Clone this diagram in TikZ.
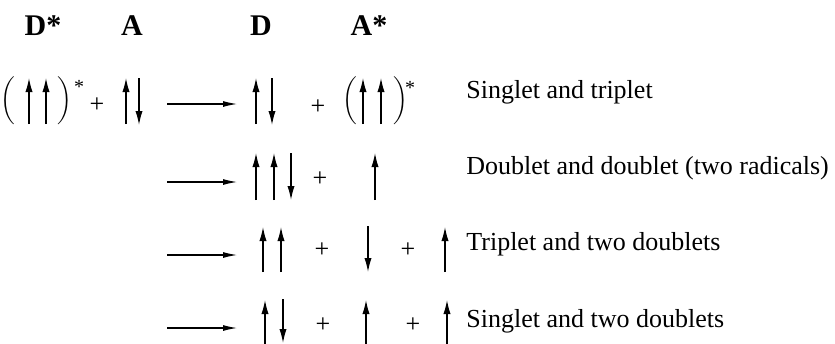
\documentclass[tikz,border=0pt]{standalone}
\usepackage{fontspec}
\setmainfont{Liberation Serif}
\usetikzlibrary{arrows.meta}

\begin{document}
\begin{tikzpicture}[x=0.5pt, y=-0.5pt,
  spinarrow/.style={line width=0.65pt, -{Latex[length=7pt,width=3.6pt]}},
  rxnarrow/.style={line width=0.55pt, -{Latex[length=7pt,width=3pt]}},
  plussign/.style={inner sep=0pt, font=\fontsize{13}{15}\selectfont},
  species/.style={anchor=base, inner sep=0pt, font=\fontsize{15}{18}\selectfont\bfseries},
  statelabel/.style={anchor=base west, inner sep=0pt, font=\fontsize{13}{15}\selectfont},
  paren/.style={inner sep=0pt, font=\fontsize{10}{12}\selectfont},
  star/.style={inner sep=0pt, font=\fontsize{10}{11}\selectfont}]
  \useasboundingbox (0,0) rectangle (835,343);

  % species headers
  \node[species] (Dex) at (43,35)  {D*};
  \node[species] (Ag)  at (132,35) {A};
  \node[species] (Dg)  at (261,35) {D};
  \node[species] (Aex) at (369,35) {A*};

  % reaction arrows
  \coordinate (R1s) at (167,104); \coordinate (R1e) at (237,104);
  \coordinate (R2s) at (167,182); \coordinate (R2e) at (237,182);
  \coordinate (R3s) at (167,255); \coordinate (R3e) at (237,255);
  \coordinate (R4s) at (167,328); \coordinate (R4e) at (237,328);
  \draw[rxnarrow] (R1s) -- (R1e);
  \draw[rxnarrow] (R2s) -- (R2e);
  \draw[rxnarrow] (R3s) -- (R3e);
  \draw[rxnarrow] (R4s) -- (R4e);

  % excited-state brackets
  \node[paren] (PL1) at (8,101)   {$\biggl($};
  \node[paren] (PR1) at (65,101)  {$\biggr)$};
  \node[star]  (S1)  at (79,87)   {*};
  \node[paren] (PL2) at (350,101) {$\biggl($};
  \node[paren] (PR2) at (401,101) {$\biggr)$};
  \node[star]  (S2)  at (410,88)  {*};

  % spins, row 1
  \foreach \x in {29,46,126,256,363,381}
    \draw[spinarrow] (\x,124) -- (\x,78);
  \foreach \x in {139,272}
    \draw[spinarrow] (\x,78) -- (\x,125);
  % row 2
  \foreach \x in {256,274,375}
    \draw[spinarrow] (\x,200) -- (\x,153);
  \draw[spinarrow] (291,153) -- (291,200);
  % row 3
  \foreach \x in {263,281,445}
    \draw[spinarrow] (\x,272) -- (\x,227);
  \draw[spinarrow] (368,226) -- (368,272);
  % row 4
  \foreach \x in {265,366,447}
    \draw[spinarrow] (\x,344) -- (\x,300);
  \draw[spinarrow] (283,299) -- (283,343);

  % plus signs
  \node[plussign] (p1a) at (97,105)  {+};
  \node[plussign] (p1b) at (318,107) {+};
  \node[plussign] (p2a) at (320,179) {+};
  \node[plussign] (p3a) at (322,250) {+};
  \node[plussign] (p3b) at (408,250) {+};
  \node[plussign] (p4a) at (323,325) {+};
  \node[plussign] (p4b) at (413,325) {+};

  % outcome labels
  \node[statelabel] (L1) at (466,98)  {Singlet and triplet};
  \node[statelabel] (L2) at (466,174) {Doublet and doublet (two radicals)};
  \node[statelabel] (L3) at (466,250) {Triplet and two doublets};
  \node[statelabel] (L4) at (466,327) {Singlet and two doublets};
\end{tikzpicture}
\end{document}
